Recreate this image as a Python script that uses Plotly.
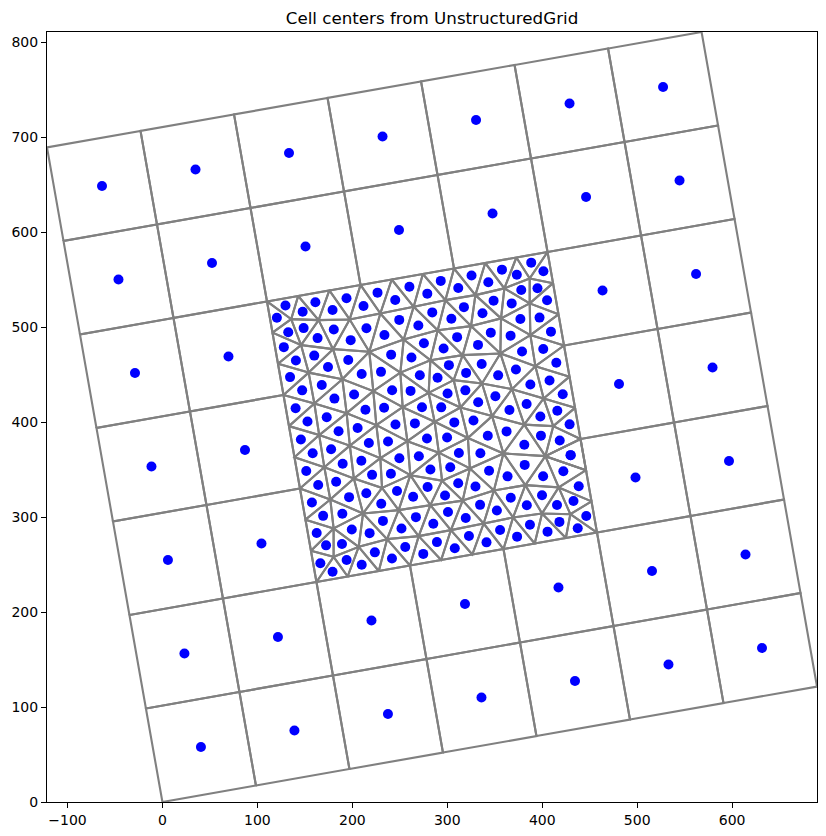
import plotly.graph_objects as go

# structured grid corners, one row per j
grid_x = [
    [0, 98.48, 196.96, 295.44, 393.92, 492.40, 590.88, 689.36],
    [-17.36, 81.12, 179.60, 278.08, 376.56, 475.04, 573.52, 672.00],
    [-34.73, 63.75, 162.23, 260.71, 359.19, 457.67, 556.15, 654.63],
    [-52.09, 46.39, 144.87, 243.35, 341.83, 440.31, 538.79, 637.27],
    [-69.46, 29.02, 127.50, 225.98, 324.46, 422.94, 521.42, 619.90],
    [-86.82, 11.66, 110.14, 208.62, 307.10, 405.58, 504.06, 602.54],
    [-104.19, -5.71, 92.77, 191.25, 289.73, 388.21, 486.69, 585.17],
    [-121.55, -23.07, 75.41, 173.89, 272.37, 370.85, 469.33, 567.81],
]
grid_y = [
    [0, 17.36, 34.73, 52.09, 69.46, 86.82, 104.19, 121.55],
    [98.48, 115.84, 133.21, 150.57, 167.94, 185.30, 202.67, 220.03],
    [196.96, 214.32, 231.69, 249.05, 266.42, 283.78, 301.15, 318.51],
    [295.44, 312.80, 330.17, 347.53, 364.90, 382.26, 399.63, 416.99],
    [393.92, 411.28, 428.65, 446.01, 463.38, 480.74, 498.11, 515.47],
    [492.40, 509.76, 527.13, 544.49, 561.86, 579.22, 596.59, 613.95],
    [590.88, 608.24, 625.61, 642.97, 660.34, 677.70, 695.07, 712.43],
    [689.36, 706.72, 724.09, 741.45, 758.82, 776.18, 793.55, 810.91],
]
hole_cells = [(2, 2), (3, 2), (4, 2), (2, 3), (3, 3), (4, 3), (2, 4), (3, 4), (4, 4)]

# triangulated patch: node names and their coordinates
mesh_names = """T0 T1 T2 T3 T4 T5 T6 T7 T8 T9
B0 B1 B2 B3 B4 B5 B6 B7 B8 B9
L1 L2 L3 L4 L5 L6 L7 L8
R1 R2 R3 R4 R5 R6 R7 R8
a b c d p q r s t u v w y1 h g f e i j k l z
A B C D E F G H I J K L M N O m n P Q R S T U V W X Y Z
aa bb cc dd ee ff gg hh ii jj kk ll mm nn oo pp qq rr ss tt uu vv""".split()
mesh_x = [
    110.14, 142.97, 175.80, 208.63, 241.46, 274.29, 307.11, 339.94, 372.77, 405.58,
    162.23, 195.06, 227.89, 260.72, 293.55, 326.38, 359.21, 392.04, 424.87, 457.67,
    156.44, 150.65, 144.86, 139.07, 133.28, 127.50, 121.71, 115.92,
    451.88, 446.09, 440.30, 434.51, 428.72, 422.93, 417.14, 411.35,
    135.6, 164.5, 197.2, 229.5, 264.6, 298.0, 329.6, 360.1, 386.8, 386.8, 356.6, 325.0,
    289.9, 254.1, 217.9, 179.7, 146.0, 154.0, 189.5, 222.1, 250.6, 282.2,
    316.2, 355.9, 387.5, 392.8, 306.7, 336.6, 368.2, 280.4, 253.0, 313.8, 347.2, 401.5,
    381.0, 411.6, 286.7, 160.0, 194.0, 225.3, 258.0, 321.7, 165.1, 197.4, 229.5, 291.1,
    359.1, 403.3, 323.8, 170.5,
    201.6, 261.1, 294.5, 231.3, 349.1, 382.2, 417.3, 316.2, 176.8, 211.3, 248.8, 282.2,
    180.3, 236.6, 269.9, 303.8, 338.3, 369.3, 399.8, 429.6, 206.7, 180.3,
]
mesh_y = [
    527.13, 532.92, 538.71, 544.50, 550.28, 556.07, 561.85, 567.64, 573.43, 579.22,
    231.69, 237.48, 243.27, 249.05, 254.84, 260.63, 266.42, 272.21, 278.00, 283.78,
    264.52, 297.35, 330.18, 363.01, 395.84, 428.66, 461.49, 494.32,
    316.61, 349.44, 382.27, 415.10, 447.93, 480.75, 513.58, 546.41,
    508.5, 507.5, 508.2, 514.5, 521.5, 528.5, 533.8, 540.9, 551.4, 525.1, 509.3, 501.2,
    496.9, 487.1, 474.1, 476.9, 481.2, 452.2, 445.3, 432.7, 452.2, 465.3,
    470.6, 472.4, 491.7, 459.0, 444.3, 440.8, 434.8, 430.9, 415.8, 415.5, 406.4, 425.0,
    397.4, 395.8, 400.4, 419.7, 409.5, 396.9, 380.0, 383.4, 386.4, 375.3, 362.1, 367.9,
    367.1, 364.2, 351.3, 352.6,
    340.7, 344.2, 338.4, 330.8, 328.1, 333.7, 331.3, 317.4, 318.6, 303.9, 307.4, 312.6,
    288.1, 276.8, 280.0, 286.3, 293.3, 299.7, 303.9, 303.1, 268.7, 258.2,
]
mesh_triangles = """T0 T1 a|T0 a L8|T1 a b|T1 T2 b|T2 b c|T2 T3 c|T3 c d|T3 T4 d|T4 d p|T4 T5 p
T5 p q|T5 T6 q|T6 q r|T6 T7 r|T7 r s|T7 T8 s|T8 s t|T8 T9 t|T9 t R8|t R8 u|t s u|R8 u R7
s u v|s r v|q r w|r v w|q w y1|q p y1|p y1 h|d p h|d h g|c d g|c f g|b c f|b e f|a b e|a L8 e
L8 L7 e|e L7 i|e f i|f i j|f g j|g j k|g k l|g h l|h l z|h y1 z|y1 A z|w y1 A|w A B|w v B
v B C|v u C|u R7 C|R7 C R6|C R6 D|C B D|R6 D R5|D R5 L|B D G|D G L|B F G|A B F|A F E|z A E
z E H|z l H|l H I|l k I|k I P|k n P|j k n|j m n|i j m|i m L6|L7 i L6|E F J|E H J|H J O|H I O
I O Q|I P Q|F J K|F G K|G K M|G L M|L M N|L N R4|L R5 R4|N R4 R3|M N X|N R3 X|M X W|K M W
R3 X R2|J K R|J O R|O R V|O Q V|K R W|R W Y|R V Y|Q V bb|bb V cc|P Q U|Q U bb|n P T|P T U
S n T|S T Z|Z T aa|T U aa|aa U dd|U bb dd|bb cc ll|bb kk ll|dd bb kk|dd jj kk|aa dd jj
aa ii jj|Z aa ii|m n S|L5 m S|L6 m L5|L5 S L4|S Z L4|L4 Z L3|L3 Z ii|L3 ii L2|L2 ii mm
ii jj mm|jj uu mm|mm uu vv|mm vv L1|L2 mm L1|L1 B0 vv|B0 vv B1|vv B1 uu|B1 uu B2|jj nn uu
uu B2 nn|jj kk nn|B2 nn B3|kk nn oo|nn B3 oo|kk oo ll|B3 oo B4|oo ll pp|oo pp B4|pp B4 B5
pp B5 qq|ll hh pp|hh pp qq|cc ll hh|hh ee qq|Y hh ee|cc Y hh|cc Y V|W Y ee|W ee ff|W X ff
X ff gg|X gg R2|X R3 R2|gg R2 R1|ff gg ss|ff ss rr|ee ff rr|ee rr qq|qq B5 B6|qq rr B6
rr B6 B7|rr ss B7|ss B7 B8|ss tt B8|gg ss tt|gg R1 tt|tt R1 B9|tt B8 B9""".replace("\n", "|").split("|")

# outlines of all cells, centers are the mean of each cell's corners
line_x, line_y = [], []
center_x, center_y = [], []

for j in range(7):
    for i in range(7):
        if (i, j) in hole_cells:
            continue
        xs = [grid_x[j][i], grid_x[j][i + 1], grid_x[j + 1][i + 1], grid_x[j + 1][i]]
        ys = [grid_y[j][i], grid_y[j][i + 1], grid_y[j + 1][i + 1], grid_y[j + 1][i]]
        line_x += xs + [xs[0], None]
        line_y += ys + [ys[0], None]
        center_x.append(sum(xs) / 4)
        center_y.append(sum(ys) / 4)

node_x = dict(zip(mesh_names, mesh_x))
node_y = dict(zip(mesh_names, mesh_y))
for tri in mesh_triangles:
    names = tri.split()
    xs = [node_x[n] for n in names]
    ys = [node_y[n] for n in names]
    line_x += xs + [xs[0], None]
    line_y += ys + [ys[0], None]
    center_x.append(sum(xs) / 3)
    center_y.append(sum(ys) / 3)

fig = go.Figure()
fig.add_trace(go.Scatter(x=line_x, y=line_y, mode='lines',
                         line=dict(color='gray', width=2.1), hoverinfo='skip'))
fig.add_trace(go.Scatter(x=center_x, y=center_y, mode='markers',
                         marker=dict(color='blue', size=10)))

axis_style = dict(showgrid=False, zeroline=False, showline=True, mirror=True,
                  automargin=False,
                  linecolor='black', linewidth=1, ticks='outside', ticklen=5,
                  tickwidth=1, tickcolor='black', dtick=100,
                  tickfont=dict(family='DejaVu Sans', size=14, color='black'))

# the page body adds 8px on the left and top, so the figure is made that much smaller
fig.update_layout(
    width=818, height=828,
    showlegend=False,
    plot_bgcolor='white', paper_bgcolor='white',
    margin=dict(l=38.6, r=9.4, t=24, b=34),
    title=dict(text='Cell centers from UnstructuredGrid', x=0.5, xref='paper',
               xanchor='center', y=1, yref='paper', yanchor='bottom', pad=dict(b=8),
               font=dict(family='DejaVu Sans', size=16.7, color='black')),
    xaxis=dict(range=[-121.55, 689.36], tick0=0, **axis_style),
    yaxis=dict(range=[0, 810.91], tick0=0, **axis_style),
)

fig.write_html("out.html")
